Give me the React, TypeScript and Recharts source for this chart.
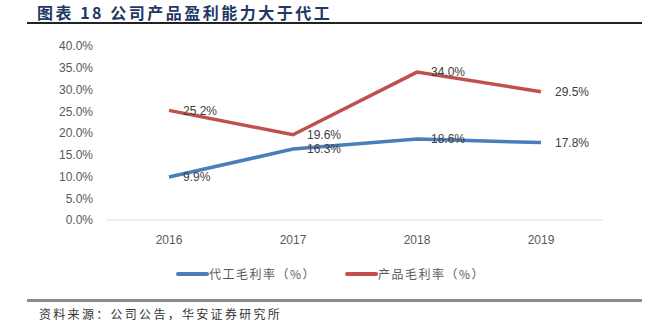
import { LineChart, Line, XAxis, YAxis, Legend, LabelList } from 'recharts';

const years = ['2016', '2017', '2018', '2019'];
const oemMargin = [9.9, 16.3, 18.6, 17.8];
const productMargin = [25.2, 19.6, 34.0, 29.5];
const yTicks = [0, 5, 10, 15, 20, 25, 30, 35, 40];

const BLUE = '#4a7ebb';
const RED = '#c0504d';
const LATIN = '"Liberation Sans", Arial, sans-serif';
const CJK = '"Noto Sans CJK SC", sans-serif';

const data = years.map((year, i) => ({
  year,
  oem: oemMargin[i],
  product: productMargin[i],
}));

const pct = (v: number) => `${Number(v).toFixed(1)}%`;

const legendItems = [
  { name: '代工毛利率（%）', color: BLUE },
  { name: '产品毛利率（%）', color: RED },
];

function ChartLegend() {
  return (
    <div style={{ display: 'flex', justifyContent: 'center', gap: 29, width: 661 }}>
      {legendItems.map((item) => (
        <div key={item.name} style={{ display: 'flex', alignItems: 'center' }}>
          <span style={{ display: 'inline-block', width: 33, height: 4, background: item.color, borderRadius: 2 }} />
          <span style={{ fontFamily: CJK, fontSize: 12, color: '#595959', letterSpacing: 1.5, lineHeight: '16px' }}>
            {item.name}
          </span>
        </div>
      ))}
    </div>
  );
}

export default function App() {
  return (
    <div style={{ position: 'absolute', left: 0, top: 0, width: 661, height: 332, background: '#fff', overflow: 'hidden' }}>
      {/* 标题 */}
      <div
        style={{
          position: 'absolute',
          left: 37,
          top: 2,
          fontFamily: CJK,
          fontWeight: 700,
          fontSize: 16,
          letterSpacing: 2.5,
          color: '#1f3864',
          lineHeight: '20px',
          whiteSpace: 'nowrap',
        }}
      >
        图表 18 公司产品盈利能力大于代工
      </div>
      <div style={{ position: 'absolute', left: 27, top: 22, width: 615, height: 1.5, background: '#222' }} />

      <LineChart
        width={661}
        height={332}
        data={data}
        margin={{ top: 46, right: 58, bottom: 92, left: 0 }}
      >
        <XAxis
          dataKey="year"
          height={20}
          padding={{ left: 62, right: 62 }}
          axisLine={{ stroke: '#d9d9d9' }}
          tickLine={false}
          tickSize={0}
          tickMargin={15}
          tick={{ fill: '#595959', fontSize: 12, fontFamily: LATIN }}
        />
        <YAxis
          width={107}
          domain={[0, 40]}
          ticks={yTicks}
          axisLine={false}
          tickLine={false}
          tickSize={0}
          tickMargin={14}
          tickFormatter={pct}
          tick={{ fill: '#595959', fontSize: 12, fontFamily: LATIN }}
        />
        <Legend
          layout="horizontal"
          verticalAlign="middle"
          wrapperStyle={{ top: 266, left: 0, width: 661 }}
          content={() => <ChartLegend />}
        />
        <Line
          dataKey="oem"
          name="代工毛利率（%）"
          stroke={BLUE}
          strokeWidth={3.5}
          dot={false}
          isAnimationActive={false}
        >
          <LabelList
            dataKey="oem"
            position="right"
            offset={14}
            formatter={pct}
            style={{ fill: '#404040', fontSize: 12, fontFamily: LATIN }}
          />
        </Line>
        <Line
          dataKey="product"
          name="产品毛利率（%）"
          stroke={RED}
          strokeWidth={3.5}
          dot={false}
          isAnimationActive={false}
        >
          <LabelList
            dataKey="product"
            position="right"
            offset={14}
            formatter={pct}
            style={{ fill: '#404040', fontSize: 12, fontFamily: LATIN }}
          />
        </Line>
      </LineChart>

      {/* 资料来源 */}
      <div style={{ position: 'absolute', left: 27, top: 299, width: 615, height: 2.5, background: '#8c8c8c' }} />
      <div
        style={{
          position: 'absolute',
          left: 39,
          top: 306,
          fontFamily: CJK,
          fontSize: 12,
          letterSpacing: 2.3,
          color: '#333',
          lineHeight: '16px',
          whiteSpace: 'nowrap',
        }}
      >
        资料来源：公司公告，华安证券研究所
      </div>
    </div>
  );
}
